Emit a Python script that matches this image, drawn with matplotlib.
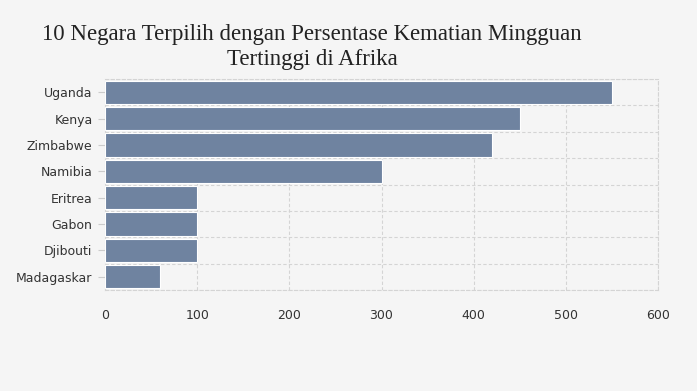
import matplotlib
matplotlib.use("Agg")
import matplotlib.pyplot as plt
import numpy as np

# data
countries = ["Uganda", "Kenya", "Zimbabwe", "Namibia", "Eritrea", "Gabon", "Djibouti", "Madagaskar"]
values = [550, 450, 420, 300, 100, 100, 100, 60]
x_ticks = [0, 100, 200, 300, 400, 500, 600]

bg = "#f5f5f5"
bar_color = "#6f83a0"
grid_color = "#d4d4d4"

fig = plt.figure(figsize=(6.97, 3.91), dpi=100, facecolor=bg)
ax = fig.add_axes([105 / 697, 1 - 290 / 391, 553 / 697, 211 / 391])
ax.set_facecolor(bg)

y = np.arange(len(countries))
ax.barh(y, values, height=0.88, color=bar_color, edgecolor="white", linewidth=0.8, zorder=3)

ax.set_xlim(0, 600)
ax.set_ylim(len(countries) - 0.5, -0.5)
ax.set_xticks(x_ticks)
ax.set_xticklabels([str(t) for t in x_ticks], fontsize=9, color="#333333", family="DejaVu Sans")
ax.set_yticks(y)
ax.set_yticklabels(countries, fontsize=9, color="#333333", family="DejaVu Sans")
ax.set_yticks(np.arange(-0.5, len(countries), 1), minor=True)

ax.tick_params(axis="x", length=0, pad=14)
ax.tick_params(axis="y", which="major", length=5, color="#cccccc", pad=4)
ax.tick_params(axis="y", which="minor", length=0)

ax.grid(axis="x", which="major", color=grid_color, linestyle=(0, (3, 2)), linewidth=0.8, zorder=0)
ax.grid(axis="y", which="minor", color=grid_color, linestyle=(0, (3, 2)), linewidth=0.8, zorder=0)
ax.grid(axis="y", which="major", visible=False)

for s in ax.spines.values():
    s.set_color(grid_color)
    s.set_linestyle((0, (3, 2)))
    s.set_linewidth(0.8)

fig.text(312 / 697, 1 - 47 / 391, "10 Negara Terpilih dengan Persentase Kematian Mingguan\nTertinggi di Afrika",
         ha="center", va="center", fontsize=16.5, family="Liberation Serif", color="#222222",
         linespacing=1.2)

fig.savefig("out.png", dpi=100, facecolor=bg)
